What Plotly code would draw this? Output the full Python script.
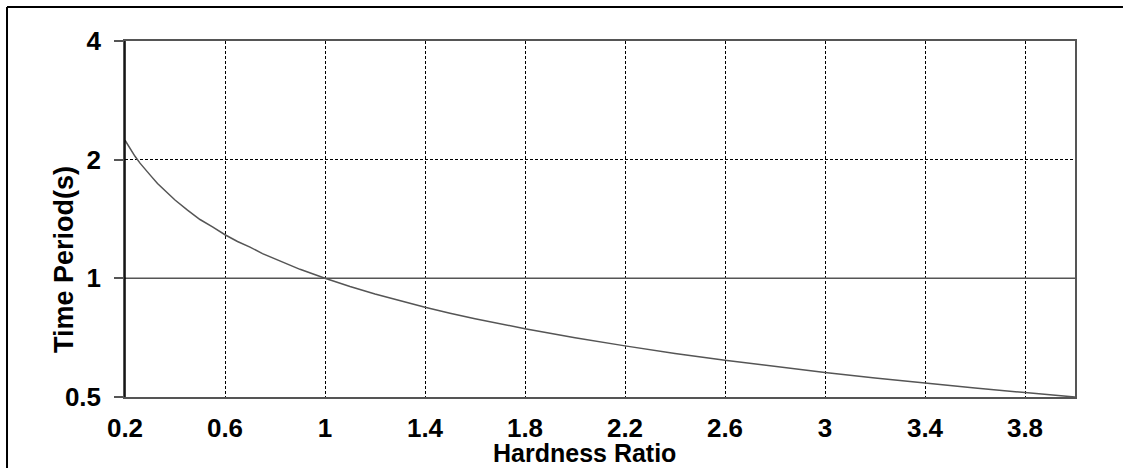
import plotly.graph_objects as go

hardness_ratio = [0.2, 0.22, 0.24, 0.26, 0.28, 0.3, 0.33, 0.36, 0.4, 0.45, 0.5, 0.55,
                  0.6, 0.65, 0.7, 0.75, 0.8, 0.9, 1.0, 1.1, 1.2, 1.3, 1.4, 1.5,
                  1.6, 1.8, 2.0, 2.2, 2.4, 2.6, 2.8, 3.0, 3.2, 3.4, 3.6, 3.8, 4.0]
time_period = [2.24, 2.13, 2.04, 1.96, 1.89, 1.83, 1.74, 1.67, 1.58, 1.49, 1.41, 1.35,
               1.29, 1.24, 1.20, 1.155, 1.12, 1.054, 1.0, 0.953, 0.913, 0.877, 0.845, 0.816,
               0.79, 0.745, 0.707, 0.674, 0.645, 0.62, 0.598, 0.577, 0.559, 0.542, 0.527, 0.513, 0.5]

x_ticks = [0.2, 0.6, 1.0, 1.4, 1.8, 2.2, 2.6, 3.0, 3.4, 3.8]
x_tick_labels = ["0.2", "0.6", "1", "1.4", "1.8", "2.2", "2.6", "3", "3.4", "3.8"]
y_ticks = [0.5, 1, 2, 4]
y_tick_labels = ["0.5", "1", "2", "4"]

FONT = "Liberation Sans, Arial, sans-serif"

fig = go.Figure()
fig.add_trace(go.Scatter(
    x=hardness_ratio, y=time_period, mode="lines",
    line=dict(color="#555555", width=1.5, shape="linear"),
    showlegend=False, hoverinfo="x+y"))

fig.update_layout(
    width=1127, height=468,
    margin=dict(l=125, r=52, t=41, b=71),
    paper_bgcolor="white", plot_bgcolor="white",
    font=dict(family=FONT, color="black"),
    xaxis=dict(range=[0.2, 4.0], tickvals=x_ticks, ticktext=x_tick_labels,
               showgrid=True, gridcolor="black", gridwidth=1, griddash="3px,2px",
               showline=True, linecolor="#555555", linewidth=1.5, mirror=True,
               ticks="", tickfont=dict(size=26, family=FONT, weight="bold"),
               ticklabelstandoff=7, zeroline=False),
    yaxis=dict(type="log", range=[-0.30103, 0.60206], tickvals=y_ticks, ticktext=y_tick_labels,
               showgrid=True, gridcolor="black", gridwidth=1, griddash="3px,2px",
               showline=True, linecolor="#555555", linewidth=1.5, mirror=True,
               ticks="outside", ticklen=9, tickcolor="#555555", tickwidth=1.5,
               tickfont=dict(size=26, family=FONT, weight="bold"),
               ticklabelstandoff=8, zeroline=False),
)

# solid horizontal line at y=1
fig.add_shape(type="line", xref="paper", x0=0, x1=1, yref="y", y0=1, y1=1,
              line=dict(color="#555555", width=1.5))
# left axis line darker
fig.add_shape(type="line", xref="paper", x0=0, x1=0, yref="paper", y0=0, y1=1,
              line=dict(color="black", width=1.5))

# outer frame (top and left)
fig.add_shape(type="line", xref="paper", yref="paper", x0=-0.1242, x1=1.0505, y0=1.0955, y1=1.0955,
              line=dict(color="black", width=2))
fig.add_shape(type="line", xref="paper", yref="paper", x0=-0.1242, x1=-0.1242, y0=1.0955, y1=-0.25,
              line=dict(color="black", width=2))

fig.add_annotation(text="Hardness Ratio", xref="paper", yref="paper", x=0.4842, y=-0.157,
                   xanchor="center", yanchor="middle", showarrow=False,
                   font=dict(size=25, family=FONT, weight="bold"))
fig.add_annotation(text="Time Period(s)", xref="paper", yref="paper", x=-0.0642, y=0.385,
                   xanchor="center", yanchor="middle", showarrow=False, textangle=-90,
                   font=dict(size=27, family=FONT, weight="bold"))

fig.write_html("out.html")
